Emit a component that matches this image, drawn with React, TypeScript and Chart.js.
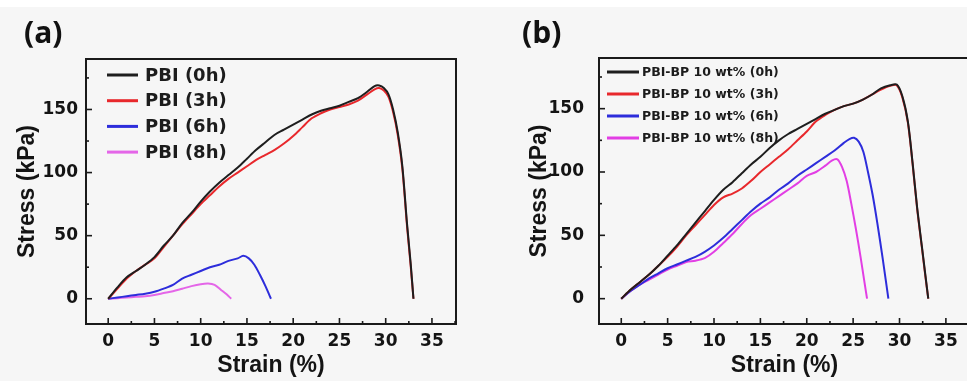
import React, { useEffect, useRef } from "react";
import { Chart, registerables } from "chart.js";
Chart.register(...registerables);

// ---------- data ----------
const X_TICKS = [0, 5, 10, 15, 20, 25, 30, 35];
const Y_TICKS = [0, 50, 100, 150];
const X_LABEL = "Strain (%)";
const Y_LABEL = "Stress (kPa)";

const A_LABELS = ["PBI (0h)", "PBI (3h)", "PBI (6h)", "PBI (8h)"];
const B_LABELS = [
  "PBI-BP 10 wt% (0h)",
  "PBI-BP 10 wt% (3h)",
  "PBI-BP 10 wt% (6h)",
  "PBI-BP 10 wt% (8h)",
];
const A_COLORS = ["#1e1e1e", "#e8282c", "#2d2ddb", "#e466e8"];
const B_COLORS = ["#1e1e1e", "#e8282c", "#2d2ddb", "#e23ee4"];

// Panel (a)
const A01_STRAIN = [0, 1, 2, 3, 4, 5, 6, 7, 8, 9, 10, 11, 12, 13, 14, 15, 16, 17, 18, 19, 20, 21, 22, 23, 24, 25, 26, 27, 28, 28.8, 29.3, 29.8, 30.3, 30.8, 31.3, 31.8, 32.3, 32.7, 33.0];
const A0_STRESS = [0, 9, 17, 22, 27, 33, 42, 50, 60, 68, 77, 85, 92, 98, 104, 111, 118, 124, 130, 134, 138, 142, 146, 149, 151, 153, 156, 159, 164, 168.5, 169, 167, 162, 150, 132, 105, 60, 28, 0];
const A3_STRESS = [0, 8, 16, 22, 27, 32, 41, 50, 59, 67, 75, 82, 89, 95, 100, 105, 110, 114, 118, 123, 129, 136, 143, 147, 150, 152, 154, 157, 162, 166, 167, 165, 160, 148, 130, 103, 58, 26, 0];
const A6_STRAIN = [0, 1, 2, 3, 4, 5, 6, 7, 8, 9, 10, 11, 12, 13, 14, 14.6, 15.2, 15.8, 16.4, 17.0, 17.6];
const A6_STRESS = [0, 1, 2, 3, 4, 5.5, 8, 11, 16, 19, 22, 25, 27, 30, 32, 34, 32, 27, 19, 10, 0];
const A8_STRAIN = [0, 1, 2, 3, 4, 5, 6, 7, 8, 9, 10, 10.8, 11.5, 12.2, 12.8, 13.3];
const A8_STRESS = [0, 0.5, 1, 1.5, 2, 3, 4.5, 6, 8, 10, 11.5, 12, 11, 7, 3.5, 0];

// Panel (b)
const B01_STRAIN = [0, 1, 2, 3, 4, 5, 6, 7, 8, 9, 10, 11, 12, 13, 14, 15, 16, 17, 18, 19, 20, 21, 22, 23, 24, 25, 26, 27, 28, 29, 29.7, 30.3, 30.9, 31.4, 31.9, 32.4, 32.8, 33.1];
const B0_STRESS = [0, 7, 13, 19, 26, 34, 42, 51, 60, 69, 78, 86, 92, 99, 106, 112, 119, 125, 130, 134, 138, 142, 146, 149, 152, 154, 157, 161, 166, 168.5, 169, 160, 140, 108, 72, 42, 18, 0];
const B3_STRESS = [0, 7, 13, 19, 26, 33, 41, 50, 58, 66, 74, 80, 83, 87, 93, 100, 106, 112, 118, 125, 132, 140, 145, 149, 152, 154, 157, 161, 165, 168, 168.5, 159, 139, 107, 71, 41, 17, 0];
const B6_STRAIN = [0, 1, 2, 3, 4, 5, 6, 7, 8, 9, 10, 11, 12, 13, 14, 15, 16, 17, 18, 19, 20, 21, 22, 23, 24, 24.6, 25.1, 25.6, 26.1, 26.6, 27.1, 27.6, 28.2, 28.8];
const B6_STRESS = [0, 6, 11, 16, 20, 24, 27, 30, 33, 37, 42, 48, 55, 62, 69, 75, 80, 86, 91, 97, 102, 107, 112, 117, 123, 126, 127, 124, 116, 100, 82, 60, 31, 0];
const B8_STRAIN = [0, 1, 2, 3, 4, 5, 6, 7, 8, 9, 10, 11, 12, 13, 14, 15, 16, 17, 18, 19, 20, 21, 22, 22.7, 23.3, 23.8, 24.3, 24.8, 25.3, 25.8, 26.2, 26.5];
const B8_STRESS = [0, 6, 11, 15, 19, 23, 26, 29, 30, 32, 37, 44, 51, 59, 66, 71, 76, 81, 86, 91, 97, 100, 105, 109, 110, 104, 93, 75, 55, 33, 14, 0];

const zip = (xs: number[], ys: number[]) => xs.map((x, i) => ({ x, y: ys[i] }));

// ---------- plugin: box, inward ticks, legend ----------
const frame = {
  id: "frame",
  afterDatasetsDraw(chart: any, _a: any, opts: any) {
    const { ctx, chartArea } = chart;
    const { left, right, top, bottom } = chartArea;
    const xs = chart.scales.x;
    const ys = chart.scales.y;
    ctx.save();
    ctx.strokeStyle = "#1a1a1a";
    ctx.lineWidth = 2;
    ctx.strokeRect(left, top, right - left, bottom - top);
    ctx.lineWidth = 1.6;
    // x ticks
    const xt = X_TICKS;
    const xstep = xt[1] - xt[0];
    for (let i = 0; i < xt.length; i++) {
      const v = xt[i];
      const p = xs.getPixelForValue(v);
      ctx.beginPath();
      ctx.moveTo(p, bottom);
      ctx.lineTo(p, bottom - 6);
      ctx.stroke();
      const m = v + xstep / 2;
      if (m < xs.max) {
        const pm = xs.getPixelForValue(m);
        ctx.beginPath();
        ctx.moveTo(pm, bottom);
        ctx.lineTo(pm, bottom - 3);
        ctx.stroke();
      }
    }
    const yt = Y_TICKS;
    const ystep = yt[1] - yt[0];
    for (let i = 0; i < yt.length; i++) {
      const v = yt[i];
      const p = ys.getPixelForValue(v);
      ctx.beginPath();
      ctx.moveTo(left, p);
      ctx.lineTo(left + 6, p);
      ctx.stroke();
      const m = v + ystep / 2;
      if (m < ys.max) {
        const pm = ys.getPixelForValue(m);
        ctx.beginPath();
        ctx.moveTo(left, pm);
        ctx.lineTo(left + 3, pm);
        ctx.stroke();
      }
    }
    // legend
    const L = opts.legend;
    ctx.font = L.font;
    ctx.textBaseline = "middle";
    ctx.textAlign = "left";
    chart.data.datasets.forEach((ds: any, i: number) => {
      const y = top + L.y0 + i * L.dy;
      ctx.strokeStyle = ds.borderColor;
      ctx.lineWidth = 3;
      ctx.beginPath();
      ctx.moveTo(left + L.x0, y);
      ctx.lineTo(left + L.x1, y);
      ctx.stroke();
      ctx.fillStyle = "#1c1c1c";
      ctx.fillText(ds.label, left + L.tx, y + 1);
    });
    ctx.restore();
  },
};

function makeConfig(
  datasets: any[],
  cfg: { padTop: number; padRight: number; yTickPad: number; yTitlePad: number; legend: any }
): any {
  return {
    type: "line",
    data: { datasets },
    options: {
      animation: false,
      responsive: false,
      devicePixelRatio: 1,
      layout: { padding: { top: cfg.padTop, right: cfg.padRight, left: 0, bottom: 0 } },
      plugins: {
        legend: { display: false },
        tooltip: { enabled: false },
        frame: { legend: cfg.legend },
      },
      elements: { point: { radius: 0 }, line: { borderWidth: 2, tension: 0.3 } },
      scales: {
        x: {
          type: "linear",
          min: -2.4,
          max: 37.6,
          grid: { display: false, drawTicks: false },
          border: { display: false },
          afterBuildTicks: (s: any) => {
            s.ticks = X_TICKS.map((v) => ({ value: v }));
          },
          afterFit: (s: any) => {
            s.height = 57;
          },
          ticks: {
            padding: 7,
            color: "#141414",
            font: { family: "DejaVu Sans", weight: "bold", size: 17 },
          },
          title: {
            display: true,
            text: X_LABEL,
            color: "#141414",
            padding: { top: 0, bottom: 2 },
            font: { family: "Liberation Sans", weight: "bold", size: 23 },
          },
        },
        y: {
          type: "linear",
          min: -20,
          max: 190,
          grid: { display: false, drawTicks: false },
          border: { display: false },
          afterBuildTicks: (s: any) => {
            s.ticks = Y_TICKS.map((v) => ({ value: v }));
          },
          afterFit: (s: any) => {
            s.width = 86;
          },
          ticks: {
            padding: cfg.yTickPad,
            color: "#141414",
            font: { family: "DejaVu Sans", weight: "bold", size: 17 },
          },
          title: {
            display: true,
            text: Y_LABEL,
            color: "#141414",
            padding: { top: cfg.yTitlePad, bottom: 0 },
            font: { family: "Liberation Sans", weight: "bold", size: 23 },
          },
        },
      },
    },
    plugins: [frame],
  };
}

function Panel(props: { left: number; width: number; config: () => any }) {
  const ref = useRef<HTMLCanvasElement | null>(null);
  useEffect(() => {
    const chart = new Chart(ref.current as HTMLCanvasElement, props.config());
    return () => chart.destroy();
  }, []);
  return (
    <canvas
      ref={ref}
      width={props.width}
      height={381}
      style={{ position: "absolute", left: props.left, top: 0, width: props.width, height: 381 }}
    />
  );
}

const configA = () =>
  makeConfig(
    [
      { label: A_LABELS[0], data: zip(A01_STRAIN, A0_STRESS), borderColor: A_COLORS[0] },
      { label: A_LABELS[1], data: zip(A01_STRAIN, A3_STRESS), borderColor: A_COLORS[1] },
      { label: A_LABELS[2], data: zip(A6_STRAIN, A6_STRESS), borderColor: A_COLORS[2] },
      { label: A_LABELS[3], data: zip(A8_STRAIN, A8_STRESS), borderColor: A_COLORS[3] },
    ],
    {
      padTop: 59,
      padRight: 24,
      yTickPad: 8,
      yTitlePad: 14,
      legend: { x0: 21, x1: 52, tx: 59, y0: 16, dy: 25.7, font: "bold 18px 'DejaVu Sans'" },
    }
  );

const configB = () =>
  makeConfig(
    [
      { label: B_LABELS[0], data: zip(B01_STRAIN, B0_STRESS), borderColor: B_COLORS[0] },
      { label: B_LABELS[1], data: zip(B01_STRAIN, B3_STRESS), borderColor: B_COLORS[1] },
      { label: B_LABELS[2], data: zip(B6_STRAIN, B6_STRESS), borderColor: B_COLORS[2] },
      { label: B_LABELS[3], data: zip(B8_STRAIN, B8_STRESS), borderColor: B_COLORS[3] },
    ],
    {
      padTop: 58,
      padRight: 13,
      yTickPad: 15,
      yTitlePad: 13,
      legend: { x0: 8, x1: 40, tx: 43, y0: 14, dy: 22, font: "bold 12.5px 'DejaVu Sans'" },
    }
  );

export default function App() {
  return (
    <div
      style={{
        position: "fixed",
        left: 0,
        top: 0,
        width: 967,
        height: 381,
        overflow: "hidden",
        background: "#f6f6f6",
      }}
    >
      <div style={{ position: "absolute", left: 0, top: 0, width: 967, height: 7, background: "#ffffff" }} />
      <Panel left={0} width={480} config={configA} />
      <Panel left={513} width={470} config={configB} />
      <div
        style={{
          position: "absolute",
          left: 24,
          top: 12,
          fontFamily: "'Open Sans', sans-serif",
          fontWeight: 700,
          fontSize: 30,
          lineHeight: "40px",
          color: "#111",
        }}
      >
        (a)
      </div>
      <div
        style={{
          position: "absolute",
          left: 522,
          top: 12,
          fontFamily: "'Open Sans', sans-serif",
          fontWeight: 700,
          fontSize: 30,
          lineHeight: "40px",
          color: "#111",
        }}
      >
        (b)
      </div>
    </div>
  );
}
